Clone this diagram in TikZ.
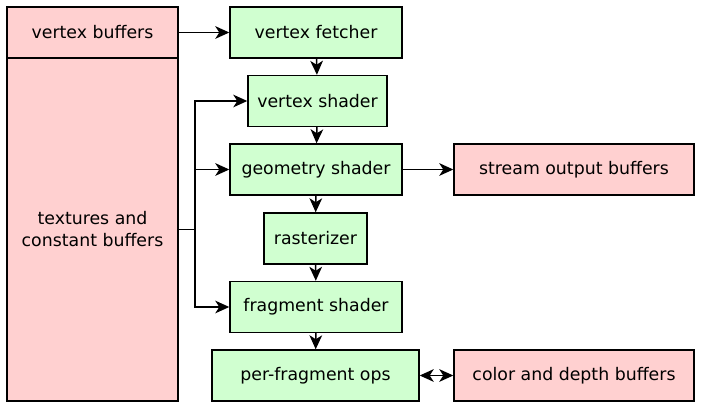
\documentclass[tikz,border=0pt]{standalone}
\usepackage{fontspec}
\setmainfont{DejaVu Sans}
\usetikzlibrary{arrows.meta,positioning}
\definecolor{bufpink}{RGB}{255,208,208}
\definecolor{stagegreen}{RGB}{208,255,208}
\tikzset{
  box/.style={rectangle, draw=black, fill=#1, align=center, inner sep=0pt,
              line width=1.1pt, font=\fontsize{13}{16.5}\selectfont},
  box/.default={stagegreen},
  arr/.style={-{Stealth[length=10.5pt, width=9.5pt, inset=3pt]}, line width=1.1pt},
  arr2/.style={{Stealth[length=10.5pt, width=9.5pt, inset=3pt]}-{Stealth[length=10.5pt, width=9.5pt, inset=3pt]}, line width=1.1pt},
  link/.style={line width=1.1pt},
}
\begin{document}
\begin{tikzpicture}[x=0.75pt, y=-0.75pt]
\useasboundingbox (0,0) rectangle (701,411);
% buffers on the left
\node[box=bufpink, minimum width=128.25pt, minimum height=38.25pt] (vbuf) at (92.5,32.5) {vertex buffers};
\node[box=bufpink, minimum width=128.25pt, minimum height=257.25pt] (tex) at (92.5,229.5) {textures and\\constant buffers};
% pipeline stages
\node[box, minimum width=129pt, minimum height=38.25pt] (fetch) at (316,32.5) {vertex fetcher};
\node[box, minimum width=104.25pt, minimum height=38.25pt] (vshader) at (317.5,101) {vertex shader};
\node[box, minimum width=129pt, minimum height=38.25pt] (gshader) at (316,169.5) {geometry shader};
\node[box, minimum width=77.25pt, minimum height=38.25pt] (raster) at (315.5,238.5) {rasterizer};
\node[box, minimum width=129pt, minimum height=38.25pt] (fshader) at (316,307) {fragment shader};
\node[box, minimum width=155.25pt, minimum height=38.25pt] (pfops) at (315.5,375.5) {per-fragment ops};
% outputs
\node[box=bufpink, minimum width=180pt, minimum height=38.25pt] (stream) at (574,169.5) {stream output buffers};
\node[box=bufpink, minimum width=180pt, minimum height=38.25pt] (cdbuf) at (574,375.5) {color and depth buffers};
% connectors
\draw[arr] (vbuf) -- (fetch);
\draw[arr] (fetch) -- (vshader);
\draw[arr] (vshader) -- (gshader);
\draw[arr] (gshader) -- (raster);
\draw[arr] (raster) -- (fshader);
\draw[arr] (fshader) -- (pfops);
\draw[arr] (gshader) -- (stream);
\draw[arr2] (pfops) -- (cdbuf);
\coordinate (split) at (195,229.5);
\draw[link] (tex.east) -- (split);
\draw[link, line cap=rect] (split |- vshader.west) -- (split |- fshader.west);
\draw[arr] (split |- vshader.west) -- (vshader.west);
\draw[arr] (split |- gshader.west) -- (gshader.west);
\draw[arr] (split |- fshader.west) -- (fshader.west);
\end{tikzpicture}
\end{document}
